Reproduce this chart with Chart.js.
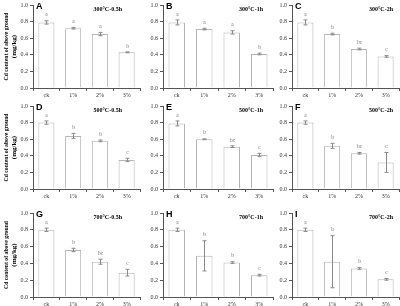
<!DOCTYPE html>
<html>
<head>
<meta charset="utf-8">
<script src="https://cdn.jsdelivr.net/npm/chart.js@4"></script>
<style>
	html, body { margin: 0; padding: 0; background: #fff; }
	#wrap { position: relative; width: 400px; height: 306px; overflow: hidden; }
	#wrap canvas { position: absolute; }
</style>
</head>
<body>
<div id="wrap"></div>
<script>
const categories = ['ck', '1%', '2%', '3%'];
const yTicks = [0, 0.2, 0.4, 0.6, 0.8, 1.0];
const yTitle = ['Cd content of above ground', '(mg/kg)'];
const panelLetters = ['A', 'B', 'C', 'D', 'E', 'F', 'G', 'H', 'I'];
const panelTitles = ['300°C-0.5h', '300°C-1h', '300°C-2h', '500°C-0.5h', '500°C-1h', '500°C-2h', '700°C-0.5h', '700°C-1h', '700°C-2h'];

// means, errors and significance letters per panel
const meanA = [0.79, 0.72, 0.65, 0.43];
const errA = [0.02, 0.01, 0.02, 0.005];
const sigA = ['a', 'a', 'a', 'b'];
const meanB = [0.79, 0.71, 0.67, 0.41];
const errB = [0.03, 0.01, 0.02, 0.01];
const sigB = ['a', 'a', 'a', 'b'];
const meanC = [0.79, 0.65, 0.47, 0.38];
const errC = [0.03, 0.01, 0.01, 0.01];
const sigC = ['a', 'b', 'bc', 'c'];
const meanD = [0.80, 0.64, 0.58, 0.35];
const errD = [0.02, 0.03, 0.01, 0.02];
const sigD = ['a', 'b', 'b', 'c'];
const meanE = [0.79, 0.60, 0.51, 0.41];
const errE = [0.03, 0.005, 0.01, 0.02];
const sigE = ['a', 'b', 'bc', 'c'];
const meanF = [0.80, 0.52, 0.43, 0.32];
const errF = [0.02, 0.03, 0.01, 0.12];
const sigF = ['a', 'b', 'bc', 'c'];
const meanG = [0.80, 0.56, 0.42, 0.29];
const errG = [0.02, 0.02, 0.03, 0.04];
const sigG = ['a', 'b', 'bc', 'c'];
const meanH = [0.80, 0.49, 0.41, 0.26];
const errH = [0.02, 0.18, 0.01, 0.01];
const sigH = ['a', 'b', 'b', 'c'];
const meanI = [0.80, 0.42, 0.34, 0.21];
const errI = [0.02, 0.31, 0.01, 0.01];
const sigI = ['a', 'b', 'b', 'c'];

const means = [meanA, meanB, meanC, meanD, meanE, meanF, meanG, meanH, meanI];
const errs = [errA, errB, errC, errD, errE, errF, errG, errH, errI];
const sigs = [sigA, sigB, sigC, sigD, sigE, sigF, sigG, sigH, sigI];

// layout of the 3x3 grid (pixel positions of each plot area)
const axisX = [33, 163, 292];
const rightX = [140, 273, 399];
const titleRight = [122, 263, 393];
const topY = [5, 106, 213];
const bottomY = [88, 189, 297];

const SERIF = "'Liberation Serif', 'Times New Roman', serif";
const SANS = "'Liberation Sans', Arial, sans-serif";

const errorBars = {
	id: 'errorBars',
	afterDatasetsDraw(chart, args, opts) {
		const {ctx, chartArea} = chart;
		const y = chart.scales.y;
		const meta = chart.getDatasetMeta(0);
		ctx.save();
		ctx.strokeStyle = '#8a8a8a';
		ctx.lineWidth = 1;
		ctx.fillStyle = '#777';
		ctx.font = '5.5px ' + SERIF;
		ctx.textAlign = 'center';
		ctx.textBaseline = 'bottom';
		meta.data.forEach((bar, i) => {
			const v = opts.means[i];
			const e = opts.errs[i];
			const hi = y.getPixelForValue(v + e);
			const lo = y.getPixelForValue(v - e);
			const cx = Math.round(bar.x) + 0.5;
			ctx.beginPath();
			ctx.moveTo(cx, hi);
			ctx.lineTo(cx, lo);
			ctx.moveTo(cx - 2, hi);
			ctx.lineTo(cx + 2, hi);
			ctx.moveTo(cx - 2, lo);
			ctx.lineTo(cx + 2, lo);
			ctx.stroke();
			ctx.fillText(opts.sigs[i], cx, hi - 3);
		});
		// panel letter
		ctx.fillStyle = '#000';
		ctx.font = 'bold 9px ' + SANS;
		ctx.textAlign = 'left';
		ctx.textBaseline = 'middle';
		ctx.fillText(opts.letter, chartArea.left + 3, chartArea.top + 1.5);
		// panel title
		ctx.font = 'bold 6px ' + SERIF;
		ctx.textAlign = 'right';
		ctx.fillText(opts.title, opts.titleX, chartArea.top + 4);
		// y axis title, left column only
		if (opts.showTitle) {
			const cy = (chartArea.top + chartArea.bottom) / 2;
			ctx.font = 'bold 7px ' + SERIF;
			ctx.textAlign = 'center';
			ctx.translate(0, cy);
			ctx.rotate(-Math.PI / 2);
			ctx.fillText(yTitle[0], 0, 6, 68);
			ctx.fillText(yTitle[1], 0, 14, 68);
		}
		ctx.restore();
	}
};

const wrap = document.getElementById('wrap');

for (let p = 0; p < 9; p++) {
	const row = Math.floor(p / 3);
	const col = p % 3;
	const W = col === 0 ? 33 : 20;
	const H = 12;
	const padTop = 6;
	const left = axisX[col] - W;
	const width = rightX[col] - axisX[col] + W + 2;
	const top = topY[row] - padTop;
	const height = bottomY[row] - topY[row] + padTop + H;

	const canvas = document.createElement('canvas');
	canvas.width = width;
	canvas.height = height;
	canvas.style.left = left + 'px';
	canvas.style.top = top + 'px';
	canvas.style.width = width + 'px';
	canvas.style.height = height + 'px';
	wrap.appendChild(canvas);

	new Chart(canvas, {
		type: 'bar',
		data: {
			labels: categories,
			datasets: [{
				data: means[p],
				backgroundColor: '#fff',
				borderColor: '#b4b4b4',
				borderWidth: 1,
				barPercentage: 0.6,
				categoryPercentage: 1,
			}]
		},
		options: {
			responsive: false,
			animation: false,
			devicePixelRatio: 1,
			layout: {padding: {top: padTop, right: 2, left: 0, bottom: 0}},
			plugins: {
				legend: {display: false},
				tooltip: {enabled: false},
				errorBars: {
					means: means[p],
					errs: errs[p],
					sigs: sigs[p],
					letter: panelLetters[p],
					title: panelTitles[p],
					titleX: titleRight[col] - left,
					showTitle: col === 0,
				}
			},
			scales: {
				x: {
					afterFit: s => { s.height = H; },
					border: {display: true, color: '#555', width: 1},
					grid: {display: true, drawOnChartArea: false, tickLength: 3, color: '#555'},
					ticks: {color: '#333', padding: 1, font: {family: SERIF, size: 6}},
				},
				y: {
					min: 0,
					max: 1,
					afterFit: s => { s.width = W; },
					afterBuildTicks: s => { s.ticks = yTicks.map(v => ({value: v})); },
					border: {display: true, color: '#555', width: 1},
					grid: {display: true, drawOnChartArea: false, tickLength: 3, color: '#555'},
					ticks: {
						color: '#333',
						padding: 2,
						font: {family: SERIF, size: 6},
						callback: v => v.toFixed(1),
					}
				}
			}
		},
		plugins: [errorBars]
	});
}
</script>
</body>
</html>
